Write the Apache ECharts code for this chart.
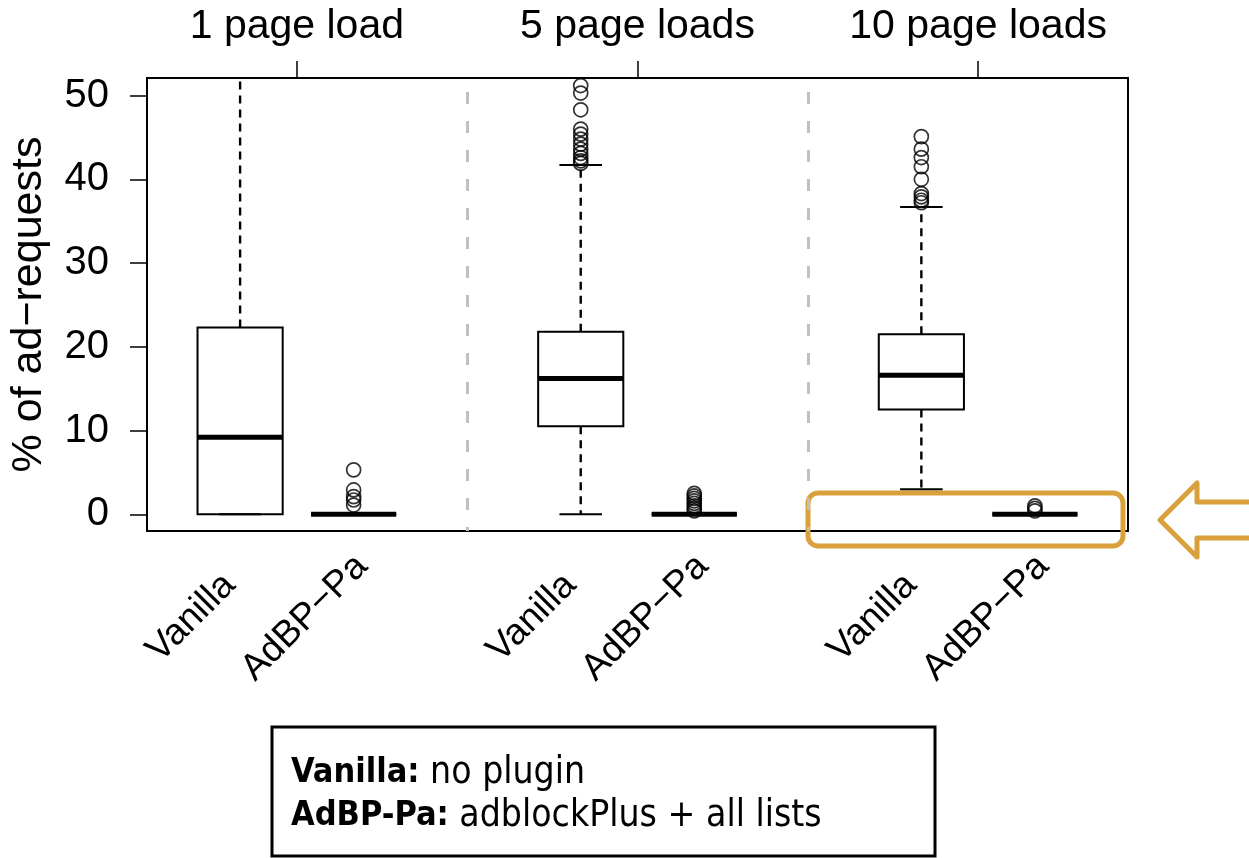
<!DOCTYPE html>
<html>
<head>
<meta charset="utf-8">
<script src="https://cdn.jsdelivr.net/npm/echarts@6/dist/echarts.min.js"></script>
<style>
html,body{margin:0;padding:0;background:#fff}
#chart{width:1249px;height:858px}
</style>
</head>
<body>
<div id="chart"></div>
<script>
var groups = ['1 page load', '5 page loads', '10 page loads'];
var groupPos = [1.5, 4.5, 7.5];
var boxNames = ['Vanilla', 'AdBP−Pa', 'Vanilla', 'AdBP−Pa', 'Vanilla', 'AdBP−Pa'];
var boxPos = [1, 2, 4, 5, 7, 8];
var separators = [3, 6];
// lower whisker, q1, median, q3, upper whisker
var boxStats = [
    [0, 0, 9.2, 22.3, 52.1],
    [0, 0, 0, 0, 0],
    [0, 10.5, 16.2, 21.8, 41.7],
    [0, 0, 0, 0, 0],
    [3.0, 12.5, 16.6, 21.5, 36.7],
    [0, 0, 0, 0, 0]
];
var outliers = [
    [],
    [5.3, 2.9, 2.1, 1.7, 1.1],
    [51.2, 50.3, 48.3, 46.0, 45.4, 44.8, 44.2, 43.6, 43.1, 42.6, 42.2, 41.9],
    [2.5, 2.2, 1.9, 1.6, 1.3, 1.0, 0.7, 0.4],
    [45.1, 43.6, 42.6, 41.5, 40.0, 38.3, 37.9, 37.5, 37.2],
    [1.0, 0.7, 0.4]
];

var fontR = 'Liberation Sans, Arial, sans-serif';
var fontL = '"DejaVu Sans Condensed", "DejaVu Sans", sans-serif';
var gold = '#D9A03C';

var boxData = [];
for (var i = 0; i < boxPos.length; i++) {
    boxData.push([boxPos[i]].concat(boxStats[i]));
}
var outData = [];
for (var i = 0; i < outliers.length; i++) {
    for (var j = 0; j < outliers[i].length; j++) outData.push([boxPos[i], outliers[i][j]]);
}

function renderBox(params, api) {
    var x = api.value(0);
    var lo = api.coord([x, api.value(1)]);
    var q1 = api.coord([x, api.value(2)]);
    var md = api.coord([x, api.value(3)]);
    var q3 = api.coord([x, api.value(4)]);
    var hi = api.coord([x, api.value(5)]);
    var w = api.size([0.75, 0])[0];
    var cx = lo[0];
    var dash = {stroke: '#000', lineWidth: 2.4, lineDash: [8, 6]};
    var solid = {stroke: '#000', lineWidth: 2};
    return {
        type: 'group',
        children: [
            {type: 'line', shape: {x1: cx, y1: q3[1], x2: cx, y2: hi[1]}, style: dash},
            {type: 'line', shape: {x1: cx, y1: q1[1], x2: cx, y2: lo[1]}, style: dash},
            {type: 'line', shape: {x1: cx - w / 4, y1: hi[1], x2: cx + w / 4, y2: hi[1]}, style: solid},
            {type: 'line', shape: {x1: cx - w / 4, y1: lo[1], x2: cx + w / 4, y2: lo[1]}, style: solid},
            {type: 'rect', shape: {x: cx - w / 2, y: q3[1], width: w, height: q1[1] - q3[1]},
                style: {fill: 'none', stroke: '#000', lineWidth: 2}},
            {type: 'line', shape: {x1: cx - w / 2, y1: md[1], x2: cx + w / 2, y2: md[1]},
                style: {stroke: '#000', lineWidth: 5}}
        ]
    };
}

var myChart = echarts.init(document.getElementById('chart'));
var option = {
    animation: false,
    backgroundColor: '#fff',
    grid: {left: 147, top: 78, right: 121, bottom: 327, show: true, borderColor: '#000', borderWidth: 2},
    xAxis: [
        {
            type: 'value', min: 0.18, max: 8.82, position: 'bottom',
            axisLine: {show: false}, axisTick: {show: false}, splitLine: {show: false},
            axisLabel: {
                customValues: boxPos, rotate: 45, margin: 38,
                align: 'center', verticalAlign: 'middle', padding: [0, 138, 0, 0],
                color: '#000', fontFamily: fontR, fontSize: 37,
                formatter: function (v) { return boxNames[boxPos.indexOf(v)]; }
            }
        },
        {
            type: 'value', min: 0.18, max: 8.82, position: 'top',
            axisLine: {show: false}, splitLine: {show: false},
            axisTick: {show: true, customValues: groupPos, length: 17, lineStyle: {color: '#000', width: 1.5}},
            axisLabel: {
                customValues: groupPos, margin: 31,
                color: '#000', fontFamily: fontR, fontSize: 41,
                formatter: function (v) { return groups[groupPos.indexOf(v)]; }
            }
        }
    ],
    yAxis: {
        type: 'value', min: -2, max: 52.1,
        name: '% of ad−requests', nameLocation: 'middle', nameRotate: 90, nameGap: 96,
        nameTextStyle: {color: '#000', fontFamily: fontR, fontSize: 43},
        axisLine: {show: false}, splitLine: {show: false},
        axisTick: {show: true, customValues: [0, 10, 20, 30, 40, 50], length: 17, lineStyle: {color: '#000', width: 1.5}},
        axisLabel: {customValues: [0, 10, 20, 30, 40, 50], margin: 38, color: '#000', fontFamily: fontR, fontSize: 40}
    },
    series: [
        {
            type: 'custom', renderItem: renderBox, data: boxData, silent: true,
            encode: {x: 0, y: [1, 2, 3, 4, 5]},
            markLine: {
                silent: true, symbol: 'none', label: {show: false},
                lineStyle: {color: '#c0c0c0', width: 3, type: [12, 17], dashOffset: 8},
                data: separators.map(function (s) { return {xAxis: s}; })
            }
        },
        {
            type: 'scatter', data: outData, symbol: 'circle', symbolSize: 14, silent: true,
            itemStyle: {color: 'rgba(0,0,0,0)', borderColor: '#000', borderWidth: 1.7}
        }
    ],
    graphic: [
        {type: 'rect', shape: {x: 808, y: 493, width: 315, height: 53, r: 10},
            style: {fill: 'none', stroke: gold, lineWidth: 5}},
        {type: 'polygon',
            shape: {points: [[1160, 520], [1197, 483], [1197, 502], [1256, 502], [1256, 538], [1197, 538], [1197, 557]]},
            style: {fill: 'none', stroke: gold, lineWidth: 5, lineJoin: 'round'}},
        {type: 'rect', shape: {x: 272, y: 727, width: 663, height: 129},
            style: {fill: '#fff', stroke: '#000', lineWidth: 3}},
        {type: 'text', left: 291, top: 752,
            style: {
                text: '{b|Vanilla:} no plugin\n{b|AdBP-Pa:} adblockPlus + all lists',
                fill: '#000', font: '37px ' + fontL, lineHeight: 43,
                rich: {b: {fontWeight: 'bold', fontSize: 34, fontFamily: fontL, lineHeight: 43}}
            }}
    ]
};
myChart.setOption(option);
</script>
</body>
</html>
